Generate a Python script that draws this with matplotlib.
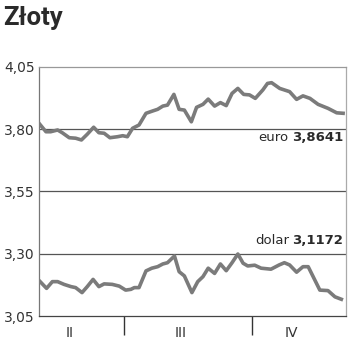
import matplotlib
matplotlib.use('Agg')
import matplotlib.pyplot as plt

# trading-day positions and rates
euro_x = [0.0, 1.2, 2.0, 3.2, 4.0, 5.2, 6.3, 7.3, 8.3, 9.4, 10.3, 11.2, 12.2, 13.5, 14.4,
          15.2, 16.1, 17.2, 18.4, 19.5, 20.4, 21.3, 22.1, 23.2, 24.1, 25.0, 26.2, 27.1,
          28.2, 29.1, 30.2, 31.2, 32.2, 33.2, 34.2, 35.2, 36.2, 37.2, 38.5, 39.3, 40.0,
          41.4, 43.1, 44.3, 45.4, 46.6, 48.0, 49.7, 51.2, 52.3]
euro_y = [3.824, 3.790, 3.790, 3.797, 3.786, 3.766, 3.764, 3.757, 3.780, 3.808, 3.786,
          3.784, 3.766, 3.770, 3.774, 3.770, 3.804, 3.817, 3.864, 3.873, 3.880, 3.893,
          3.897, 3.940, 3.880, 3.877, 3.830, 3.888, 3.900, 3.921, 3.893, 3.907, 3.895,
          3.944, 3.964, 3.940, 3.938, 3.924, 3.958, 3.984, 3.987, 3.964, 3.951, 3.920,
          3.934, 3.924, 3.900, 3.884, 3.866, 3.8641]

usd_x = [0.2, 1.3, 2.3, 3.2, 4.3, 5.5, 6.3, 7.4, 8.3, 9.3, 10.3, 11.2, 12.6, 13.8, 14.9,
         15.8, 16.4, 17.2, 18.4, 19.4, 20.4, 21.3, 22.1, 23.3, 24.1, 25.0, 26.3, 27.3,
         28.2, 29.1, 30.2, 31.2, 32.2, 33.2, 34.2, 35.1, 35.9, 37.1, 38.2, 39.9, 41.3,
         42.2, 43.1, 44.3, 45.4, 46.3, 48.3, 49.7, 50.9, 52.0]
usd_y = [3.188, 3.161, 3.188, 3.188, 3.177, 3.168, 3.164, 3.144, 3.168, 3.197, 3.168,
         3.179, 3.177, 3.170, 3.154, 3.157, 3.164, 3.164, 3.231, 3.242, 3.248, 3.259,
         3.264, 3.291, 3.228, 3.211, 3.144, 3.188, 3.208, 3.242, 3.221, 3.259, 3.232,
         3.264, 3.299, 3.262, 3.251, 3.254, 3.242, 3.238, 3.255, 3.264, 3.255, 3.226,
         3.248, 3.248, 3.154, 3.152, 3.127, 3.1172]

yticks = [3.05, 3.30, 3.55, 3.80, 4.05]
ytick_labels = ['3,05', '3,30', '3,55', '3,80', '4,05']
month_labels = ['II', 'III', 'IV']
month_label_pos = [5.2, 24.3, 43.4]
month_bounds = [14.66, 36.7]

fig = plt.figure(figsize=(3.5, 3.51), dpi=100)
ax = fig.add_axes([39 / 350, 35 / 351, 307 / 350, 249 / 351])

line_col = '#7b7b7b'
ax.plot(euro_x, euro_y, color=line_col, lw=2.6, solid_joinstyle='round', zorder=3)
ax.plot(usd_x, usd_y, color=line_col, lw=2.6, solid_joinstyle='round', zorder=3)

for v in [3.30, 3.55, 3.80]:
    ax.axhline(v, color='#555555', lw=0.9, zorder=1)

ax.set_xlim(0, 52.8)
ax.set_ylim(3.05, 4.05)

ax.spines['top'].set_color('#999999')
ax.spines['right'].set_color('#aaaaaa')
ax.spines['left'].set_color('#777777')
ax.spines['bottom'].set_color('#444444')
for s in ax.spines.values():
    s.set_linewidth(0.9)

ax.set_yticks(yticks)
ax.set_yticklabels(ytick_labels, fontsize=10, color='#333333')
ax.tick_params(axis='y', length=0, pad=3)

ax.set_xticks(month_label_pos)
ax.set_xticklabels(month_labels, fontsize=10, color='#333333')
ax.set_xticks(month_bounds, minor=True)
ax.tick_params(axis='x', which='major', length=0, pad=7)
ax.tick_params(axis='x', which='minor', length=14, width=1, color='#333333', direction='out')

fig.text(3 / 350, 1 - 18 / 351, 'Złoty', fontsize=18.5, fontweight='bold',
         family='Roboto', color='#2a2a2a', va='center', ha='left')

fig.canvas.draw()
r = fig.canvas.get_renderer()
for name, val, ypos in [('euro', '3,8641', 3.765), ('dolar', '3,1172', 3.355)]:
    t = ax.text(52.3, ypos, val, fontsize=9.5, fontweight='bold', color='#2a2a2a',
                ha='right', va='center')
    bb = t.get_window_extent(renderer=r)
    x0 = ax.transData.inverted().transform((bb.x0 - 3, bb.y0))[0]
    ax.text(x0, ypos, name, fontsize=9.5, color='#2a2a2a', ha='right', va='center')

fig.savefig('out.png', dpi=100)
